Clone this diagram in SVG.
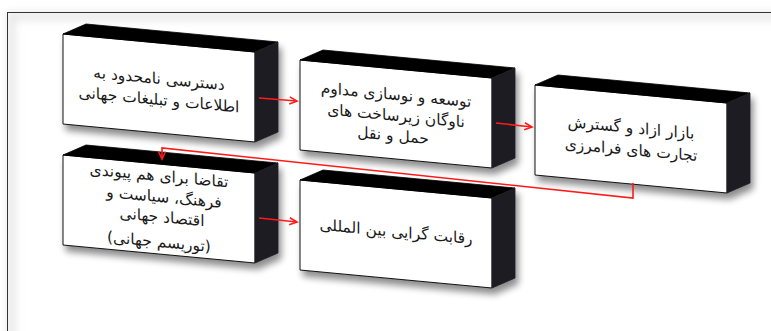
<svg xmlns="http://www.w3.org/2000/svg" width="771" height="331" viewBox="0 0 771 331">
  <defs>
    <filter id="shadow" x="-20%" y="-20%" width="150%" height="160%">
      <feGaussianBlur in="SourceAlpha" stdDeviation="3.5"/>
      <feOffset dx="3" dy="6" result="b"/>
      <feComponentTransfer><feFuncA type="linear" slope="0.45"/></feComponentTransfer>
      <feMerge><feMergeNode/><feMergeNode in="SourceGraphic"/></feMerge>
    </filter>
    <filter id="soft" x="-5%" y="-5%" width="110%" height="110%">
      <feGaussianBlur stdDeviation="4"/>
    </filter>
    <marker id="arr" markerWidth="10" markerHeight="10" refX="8" refY="4" orient="auto" markerUnits="userSpaceOnUse">
      <path d="M0.5,0.5 L8,4 L0.5,7.5" fill="none" stroke="#ff1a1a" stroke-width="1.6"/>
    </marker>
  </defs>
  <style>
    .front { fill: #ffffff; stroke: #111; stroke-width: 1; }
    .top { fill: #000000; stroke: #000; stroke-width: 0.8; }
    .side { fill: #1c1f22; stroke: #1c1f22; stroke-width: 0.8; }
    .lbl { font-family: "DejaVu Sans", sans-serif; font-size: 15.5px; fill: #1a1a1a; text-anchor: middle; direction: rtl; }
    .con { fill: none; stroke: #ff1a1a; stroke-width: 1.6; }
  </style>

  <rect x="0" y="0" width="771" height="331" fill="#ffffff"/>
  <rect x="11" y="16" width="800" height="400" fill="none" stroke="#e6e6e6" stroke-width="8" filter="url(#soft)"/>
  <rect x="7.5" y="12.5" width="800" height="400" fill="none" stroke="#333" stroke-width="1"/>

  <g id="node1" transform="translate(63,34)">
    <g filter="url(#shadow)">
      <path class="front" d="M0,0 L192,18 L192,108 L0,90 Z"/>
      <path class="top" d="M0,0 L23,-10 L215,8 L192,18 Z"/>
      <path class="side" d="M192,18 L215,8 L215,98 L192,108 Z"/>
    </g>
    <g transform="matrix(1,0.09375,0,1,0,0)">
      <text class="lbl" x="96" y="41">دسترسی نامحدود به</text>
      <text class="lbl" x="96" y="62">اطلاعات و تبلیغات جهانی</text>
    </g>
  </g>

  <g id="node2" transform="translate(300,60)">
    <g filter="url(#shadow)">
      <path class="front" d="M0,0 L192,18 L192,108 L0,90 Z"/>
      <path class="top" d="M0,0 L23,-10 L215,8 L192,18 Z"/>
      <path class="side" d="M192,18 L215,8 L215,98 L192,108 Z"/>
    </g>
    <g transform="matrix(1,0.09375,0,1,0,0)">
      <text class="lbl" x="96" y="31">توسعه و نوسازی مداوم</text>
      <text class="lbl" x="96" y="52">ناوگان  زیرساخت های</text>
      <text class="lbl" x="93" y="72">حمل و نقل</text>
    </g>
  </g>

  <g id="node3" transform="translate(535,85)">
    <g filter="url(#shadow)">
      <path class="front" d="M0,0 L192,18 L192,108 L0,90 Z"/>
      <path class="top" d="M0,0 L23,-10 L215,8 L192,18 Z"/>
      <path class="side" d="M192,18 L215,8 L215,98 L192,108 Z"/>
    </g>
    <g transform="matrix(1,0.09375,0,1,0,0)">
      <text class="lbl" x="96" y="39">بازار ازاد و گسترش</text>
      <text class="lbl" x="96" y="61">تجارت های فرامرزی</text>
    </g>
  </g>

  <g id="node4" transform="translate(63,155)">
    <g filter="url(#shadow)">
      <path class="front" d="M0,0 L192,18 L192,108 L0,90 Z"/>
      <path class="top" d="M0,0 L23,-10 L215,8 L192,18 Z"/>
      <path class="side" d="M192,18 L215,8 L215,98 L192,108 Z"/>
    </g>
    <g transform="matrix(1,0.09375,0,1,0,0)">
      <text class="lbl" x="96" y="17">تقاضا برای هم پیوندی</text>
      <text class="lbl" x="101" y="38">فرهنگ، سیاست و</text>
      <text class="lbl" x="99" y="58">اقتصاد جهانی</text>
      <text class="lbl" x="96" y="83">(توریسم جهانی)</text>
    </g>
  </g>

  <g id="node5" transform="translate(300,180)">
    <g filter="url(#shadow)">
      <path class="front" d="M0,0 L192,18 L192,108 L0,90 Z"/>
      <path class="top" d="M0,0 L23,-10 L215,8 L192,18 Z"/>
      <path class="side" d="M192,18 L215,8 L215,98 L192,108 Z"/>
    </g>
    <g transform="matrix(1,0.09375,0,1,0,0)">
      <text class="lbl" x="96" y="48">رقابت گرایی بین المللی</text>
    </g>
  </g>

  <g id="connectors">
    <path class="con" d="M259,98 L297,101" marker-end="url(#arr)"/>
    <path class="con" d="M496,123 L532,127" marker-end="url(#arr)"/>
    <path class="con" d="M259,218 L297,222" marker-end="url(#arr)"/>
    <path class="con" d="M633,183 L633,198 L162,148 L162,159" marker-end="url(#arr)"/>
  </g>
</svg>
